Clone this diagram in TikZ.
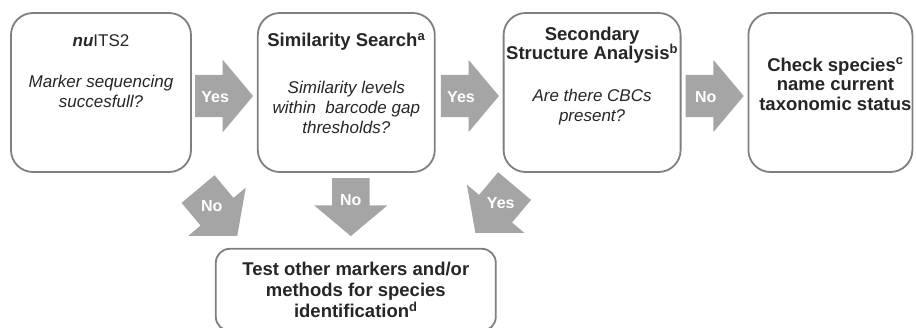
\documentclass[tikz,border=0pt]{standalone}
\usepackage{fontspec}
\setmainfont{Liberation Sans}
\usepackage{tikz}
\usetikzlibrary{positioning,calc,shapes.arrows}
\definecolor{grey800}{HTML}{262626}
\definecolor{grey500}{HTML}{7F7F7F}
\definecolor{grey400}{HTML}{A5A5A5}
\newcommand{\boxfont}{\fontsize{17}{20}\selectfont}
\newcommand{\ttlfont}{\fontsize{18.5}{19.5}\selectfont\bfseries}
\tikzset{
  box/.style   ={draw=grey500, line width=1.8pt, fill=white,
                 rounded corners=22pt, minimum height=159pt, inner sep=0pt},
  boxb/.style  ={draw=grey500, line width=1.8pt, fill=white,
                 rounded corners=14pt, minimum height=82pt,
                 minimum width=280pt, inner sep=0pt},
  txt/.style   ={align=center, text=grey800, inner sep=0pt, font=\boxfont},
  ttl/.style   ={align=center, text=grey800, inner sep=0pt, font=\ttlfont},
  arr/.style   ={single arrow, fill=grey400, text=white, align=center,
                 single arrow tip angle=100, text width=30pt,
                 text height=12pt, text depth=0pt,
                 font=\fontsize{16}{18}\selectfont\bfseries},
  harr/.style  ={arr, single arrow head extend=15pt, minimum height=58pt,
                 inner xsep=0pt, inner ysep=15pt},
  varr/.style  ={arr, single arrow head extend=18pt, minimum height=58pt,
                 shape border rotate=270, inner xsep=3.5pt, inner ysep=0pt},
  darr/.style  ={arr, single arrow head extend=16pt,
                 shape border uses incircle, inner sep=0pt}
}
\begin{document}
\begin{tikzpicture}[x=1pt,y=-1pt]
\useasboundingbox (0,0) rectangle (916,327);
% the four steps
\node[box, minimum width=180pt] (b1) at (101,92.5) {};
\node[box, minimum width=177pt, right=65pt of b1] (b2) {};
\node[box, minimum width=177pt, right=67pt of b2] (b3) {};
\node[box, minimum width=164pt, right=66pt of b3] (b4) {};
\node[boxb, below=75pt of b2, xshift=9.5pt] (b5) {};

\node[txt] (t1) at ($(b1.north)+(0,29)$) {\textbf{\textit{nu}}ITS2};
\node[txt] (q1) at ($(b1.north)+(0,79)$)
  {\textit{Marker sequencing}\\ \textit{succesfull?}};
\node[ttl] (t2) at ($(b2.north)+(0,30)$) {Similarity Search\textsuperscript{a}};
\node[txt] (q2) at ($(b2.north)+(0,95)$)
  {\textit{Similarity levels}\\ \textit{within\ \ barcode gap}\\ \textit{thresholds?}};
\node[ttl] (t3) at ($(b3.north)+(0,33)$)
  {Secondary\\ Structure Analysis\textsuperscript{b}};
\node[txt] (q3) at ($(b3.north)+(0,95)$)
  {\textit{Are there CBCs}\\ \textit{present?}};
\node[ttl] (t4) at ($(b4.north)+(5,72)$)
  {Check species\textsuperscript{c}\\ name current\\ taxonomic status};
\node[ttl, font=\fontsize{18.5}{21}\selectfont\bfseries] (t5) at (b5)
  {Test other markers and/or\\ methods for species\\ identification\textsuperscript{d}};

% the decisions
\node[harr, right=3pt of b1, yshift=-3.5pt] (y12) {Yes};
\node[harr, right=5pt of b2, yshift=-3.5pt] (y23) {Yes};
\node[harr, right=4pt of b3, yshift=-3.5pt] (n34) {No};
\node[varr, anchor=tail] (n25) at ($(b2.south)+(4.5,5)$) {No};
\node[darr, anchor=tail, shape border rotate=-50] (n15)
  at ($(b1.south east)+(6,16)$) {No};
\node[darr, anchor=tail, shape border rotate=230] (y35)
  at ($(b3.south west)+(12,13)$) {Yes};
\end{tikzpicture}
\end{document}
